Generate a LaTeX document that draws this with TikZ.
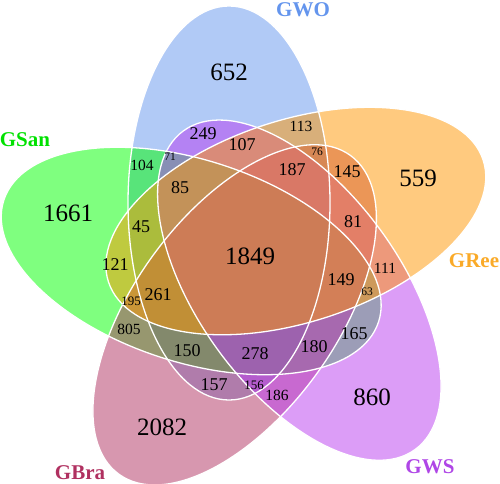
\documentclass[tikz,border=0pt]{standalone}
\usepackage{fontspec}
\setmainfont{Liberation Serif}
\definecolor{cWO}{RGB}{100,149,237}
\definecolor{cSan}{RGB}{0,255,0}
\definecolor{cRee}{RGB}{255,150,0}
\definecolor{cWS}{RGB}{185,60,240}
\definecolor{cBra}{RGB}{176,48,96}
\definecolor{tSan}{RGB}{0,225,0}
\definecolor{tRee}{RGB}{250,170,40}
\definecolor{tWS}{RGB}{175,70,230}
\begin{document}
\begin{tikzpicture}[x=1pt,y=1pt,
  setfill/.style={fill=#1,fill opacity=0.5},
  setline/.style={draw=white,line width=1.3pt},
  big/.style={inner sep=0pt,font=\fontsize{25}{30}\selectfont},
  mid/.style={inner sep=0pt,font=\fontsize{18}{22}\selectfont},
  sml/.style={inner sep=0pt,font=\fontsize{15.5}{18}\selectfont},
  tny/.style={inner sep=0pt,font=\fontsize{11.5}{14}\selectfont},
  tnyb/.style={inner sep=0pt,font=\fontsize{13}{15}\selectfont},
  cat/.style={inner sep=0pt,font=\fontsize{21}{25}\selectfont\bfseries}]
\useasboundingbox (0,0) rectangle (500,483);
\coordinate (C) at (250,225);
% fills in drawing order: GWO, GSan, GBra, GWS, GRee
\fill[setfill=cWO, rotate around={0:(C)}] (229,280) ellipse [x radius=101pt, y radius=197pt];
\fill[setfill=cSan, rotate around={72:(C)}] (229,280) ellipse [x radius=101pt, y radius=197pt];
\fill[setfill=cBra, rotate around={144:(C)}] (229,280) ellipse [x radius=101pt, y radius=197pt];
\fill[setfill=cWS, rotate around={216:(C)}] (229,280) ellipse [x radius=101pt, y radius=197pt];
\fill[setfill=cRee, rotate around={288:(C)}] (229,280) ellipse [x radius=101pt, y radius=197pt];
% outlines
\foreach \k in {0,1,2,3,4}
  \draw[setline, rotate around={72*\k:(C)}] (229,280) ellipse [x radius=101pt, y radius=197pt];
% counts
\node[big] (n652) at (229,411) {652};
\node[mid] (n249) at (203,349) {249};
\node[mid] (n107) at (242,338) {107};
\node[sml] (n104) at (142,318) {104};
\node[tny] (n71) at (170,326) {71};
\node[mid] (n85) at (180,295) {85};
\node[mid] (n45) at (141,256) {45};
\node[big] (n1661) at (68,270) {1661};
\node[sml] (n113) at (301,357) {113};
\node[tny] (n76) at (317,331) {76};
\node[mid] (n187) at (292,313) {187};
\node[mid] (n145) at (347,311) {145};
\node[big] (n559) at (418,305) {559};
\node[mid] (n81) at (353,261) {81};
\node[mid] (n121) at (115,218) {121};
\node[tnyb] (n195) at (131,182) {195};
\node[mid] (n261) at (158,188) {261};
\node[sml] (n805) at (129,154) {805};
\node[mid] (n150) at (187,132) {150};
\node[mid] (n157) at (214,98) {157};
\node[big] (n2082) at (162,56) {2082};
\node[tnyb] (n156) at (254,98) {156};
\node[sml] (n186) at (277,88) {186};
\node[mid] (n278) at (255,129) {278};
\node[mid] (n180) at (314,136) {180};
\node[mid] (n165) at (354,149) {165};
\node[mid] (n149) at (341,203) {149};
\node[tny] (n63) at (367,191) {63};
\node[sml] (n111) at (385,215) {111};
\node[big] (n860) at (372,86) {860};
\node[big] (n1849) at (250,227) {1849};
% category labels
\node[cat, text=cWO] (lWO) at (303,473) {GWO};
\node[cat, text=tSan] (lSan) at (25,343) {GSan};
\node[cat, text=tRee] (lRee) at (474,222) {GRee};
\node[cat, text=tWS] (lWS) at (430,16) {GWS};
\node[cat, text=cBra] (lBra) at (80,10) {GBra};
\end{tikzpicture}
\end{document}
